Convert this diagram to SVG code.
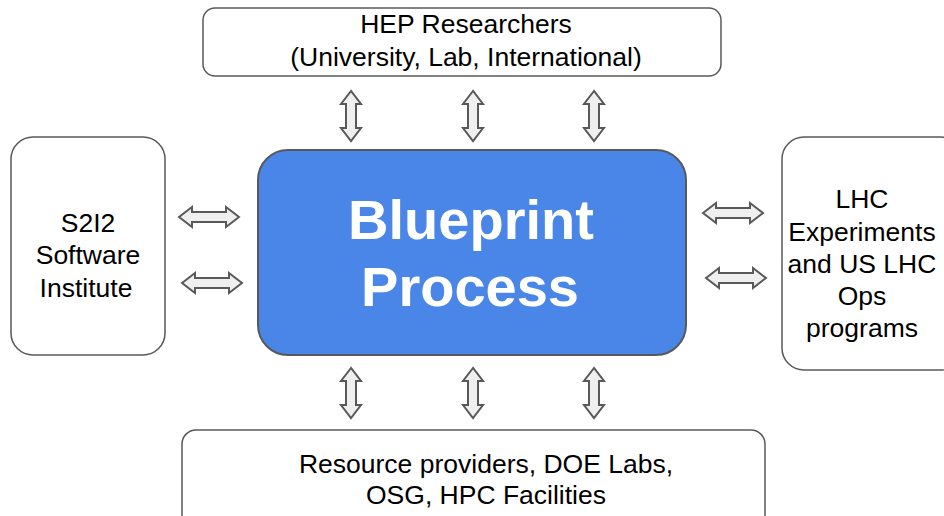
<svg xmlns="http://www.w3.org/2000/svg" xmlns:xlink="http://www.w3.org/1999/xlink" width="944" height="516" viewBox="0 0 944 516">
<style>
.box{fill:#ffffff;stroke:#595959;stroke-width:1.5}
.main{fill:#4a86e8;stroke:#595959;stroke-width:2}
.t{font-family:"Liberation Sans",Arial,sans-serif;font-size:26.5px;fill:#000000;text-anchor:middle}
.big{font-family:"Liberation Sans",Arial,sans-serif;font-size:56px;font-weight:bold;fill:#ffffff;text-anchor:middle}
.arr{fill:#efefef;stroke:#595959;stroke-width:2;stroke-linejoin:miter}
</style>
<defs>
<path id="ha" class="arr" d="M-30,0 L-17,-10 L-17,-5 L17,-5 L17,-10 L30,0 L17,10 L17,5 L-17,5 L-17,10 Z"/>
<path id="va" class="arr" d="M0,-25 L-10,-12 L-5,-12 L-5,12 L-10,12 L0,25 L10,12 L5,12 L5,-12 L10,-12 Z"/>
</defs>
<rect width="944" height="516" fill="#ffffff"/>
<g id="hep">
<rect class="box" x="203" y="8" width="518" height="68" rx="12"/>
<text class="t" x="466" y="33">HEP Researchers</text>
<text class="t" x="466" y="66">(University, Lab, International)</text>
</g>
<g id="s2i2">
<rect class="box" x="11" y="137" width="154" height="218" rx="22"/>
<text class="t" x="88" y="232">S2I2</text>
<text class="t" x="88" y="264">Software</text>
<text class="t" x="86" y="297">Institute</text>
</g>
<g id="blueprint">
<rect class="main" x="258" y="150" width="428" height="205" rx="30"/>
<text class="big" x="471" y="239">Blueprint</text>
<text class="big" x="470" y="306">Process</text>
</g>
<g id="lhc">
<rect class="box" x="782" y="137" width="180" height="233" rx="22"/>
<text class="t" x="862" y="208">LHC</text>
<text class="t" x="862" y="241">Experiments</text>
<text class="t" x="862" y="273">and US LHC</text>
<text class="t" x="862" y="305">Ops</text>
<text class="t" x="862" y="337">programs</text>
</g>
<g id="resources">
<rect class="box" x="182" y="430" width="583" height="100" rx="14"/>
<text class="t" x="486" y="473">Resource providers, DOE Labs,</text>
<text class="t" x="486" y="504">OSG, HPC Facilities</text>
</g>
<g id="connectors">
<use xlink:href="#va" href="#va" transform="translate(351,116)"/>
<use xlink:href="#va" href="#va" transform="translate(473,116)"/>
<use xlink:href="#va" href="#va" transform="translate(594,116)"/>
<use xlink:href="#va" href="#va" transform="translate(351,393)"/>
<use xlink:href="#va" href="#va" transform="translate(473,393)"/>
<use xlink:href="#va" href="#va" transform="translate(594,393)"/>
<use xlink:href="#ha" href="#ha" transform="translate(209,217)"/>
<use xlink:href="#ha" href="#ha" transform="translate(212,283)"/>
<use xlink:href="#ha" href="#ha" transform="translate(733,213)"/>
<use xlink:href="#ha" href="#ha" transform="translate(736,278)"/>
</g>
</svg>
